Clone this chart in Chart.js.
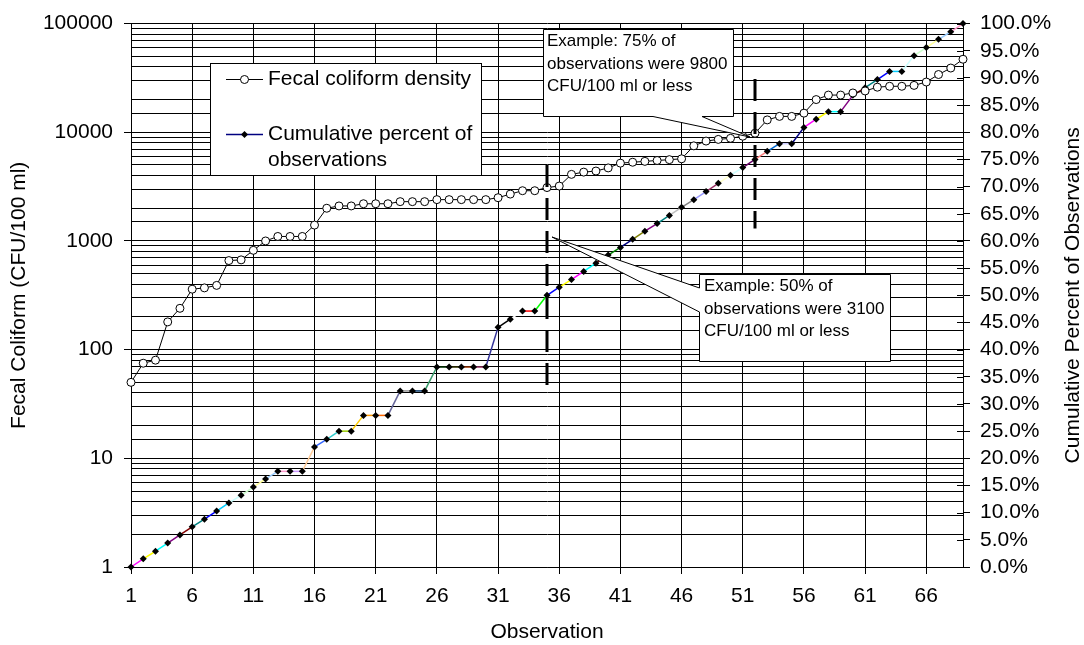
<!DOCTYPE html>
<html>
<head>
<meta charset="utf-8">
<script src="https://cdn.jsdelivr.net/npm/chart.js@4.4.0/dist/chart.umd.min.js"></script>
<style>
  body { margin: 0; background: #fff; }
  canvas { display: block; }
</style>
</head>
<body>
<canvas id="grafica" width="1084" height="645"></canvas>
<script>
const observaciones = [
  1, 2, 3, 4, 5, 6, 7, 8, 9, 10, 11, 12, 13, 14, 15, 16, 17, 18, 19, 20, 21, 22, 23,
  24, 25, 26, 27, 28, 29, 30, 31, 32, 33, 34, 35, 36, 37, 38, 39, 40, 41, 42, 43, 44, 45, 46,
  47, 48, 49, 50, 51, 52, 53, 54, 55, 56, 57, 58, 59, 60, 61, 62, 63, 64, 65, 66, 67, 68, 69
];
// Densidad de coliformes fecales (CFU/100 ml), ordenada
const coliformes = [
  50, 75, 80, 180, 240, 360, 370, 390, 660, 670, 820, 1000, 1100, 1100, 1100, 1400, 2000, 2100,
  2100, 2200, 2200, 2200, 2300, 2300, 2300, 2400, 2400, 2400, 2400, 2400, 2500, 2700, 2900, 2900,
  3100, 3200, 4100, 4300, 4400, 4700, 5200, 5300, 5400, 5500, 5600, 5700, 7500, 8300, 8600, 8800,
  9200, 9800, 13000, 14000, 14000, 15000, 20000, 22000, 22000, 23000, 24000, 26000, 26500, 26500,
  27000, 29000, 34000, 39000, 47000
];
// Porcentaje acumulado de observaciones
const porcentajeAcumulado = [
  0.0, 1.5, 2.9, 4.4, 5.9, 7.4, 8.8, 10.3, 11.8, 13.2, 14.7, 16.2, 17.6, 17.6, 17.6, 22.1, 23.5,
  25.0, 25.0, 27.9, 27.9, 27.9, 32.4, 32.4, 32.4, 36.8, 36.8, 36.8, 36.8, 36.8, 44.1, 45.6, 47.1,
  47.1, 50.0, 51.5, 52.9, 54.4, 55.9, 57.4, 58.8, 60.3, 61.8, 63.2, 64.7, 66.2, 67.6, 69.1, 70.6,
  72.1, 73.5, 75.0, 76.5, 77.9, 77.9, 80.9, 82.4, 83.8, 83.8, 86.8, 88.2, 89.7, 91.2, 91.2, 94.1,
  95.6, 97.1, 98.5, 100.0
];
const ticksObservacion = [1, 6, 11, 16, 21, 26, 31, 36, 41, 46, 51, 56, 61, 66];
const ticksLog = [1, 10, 100, 1000, 10000, 100000];

// Colores por punto (paleta de Excel, "variar colores por punto")
const coloresSegmento = [
  '#000080', '#FF00FF', '#FFFF00', '#00FFFF', '#800080', '#800000', '#008080', '#0000FF',
  '#00CCFF', '#CCFFFF', '#CCFFCC', '#FFFF99', '#99CCFF', '#FF99CC', '#CC99FF', '#FFCC99',
  '#3366FF', '#33CCCC', '#99CC00', '#FFCC00', '#FF9900', '#FF6600', '#666699', '#969696',
  '#003366', '#339966', '#003300', '#333300', '#993300', '#993366', '#333399', '#000000',
  '#FFFFFF', '#FF0000', '#00FF00', '#0000FF', '#FFFF00', '#FF00FF', '#00FFFF', '#800000',
  '#008000', '#000080', '#808000', '#800080', '#008080', '#C0C0C0', '#808080', '#9999FF',
  '#993366', '#FFFFCC', '#CCFFFF', '#660066', '#FF8080', '#0066CC', '#CCCCFF', '#000080',
  '#FF00FF', '#FFFF00', '#00FFFF', '#800080', '#800000', '#008080', '#0000FF', '#00CCFF',
  '#CCFFFF', '#CCFFCC', '#FFFF99', '#99CCFF', '#FF99CC'
];

// Lineas punteadas de ejemplo: observacion y rango en el eje logaritmico
const marcasEjemplo = [
  { obs: 35, desde: 40, hasta: 5000 },
  { obs: 52, desde: 1300, hasta: 31000 }
];

const FUENTE = "'Liberation Sans', Arial, sans-serif";
Chart.defaults.font.family = FUENTE;
Chart.defaults.color = '#000';

const dibujarCallout = (ctx, puntos, lineas, tx, ty) => {
  ctx.beginPath();
  ctx.moveTo(puntos[0][0], puntos[0][1]);
  for (let i = 1; i < puntos.length; i++) ctx.lineTo(puntos[i][0], puntos[i][1]);
  ctx.closePath();
  ctx.fillStyle = '#fff';
  ctx.fill();
  ctx.strokeStyle = '#000';
  ctx.lineWidth = 1;
  ctx.stroke();
  ctx.fillStyle = '#000';
  ctx.font = `17px ${FUENTE}`;
  ctx.textAlign = 'left';
  ctx.textBaseline = 'middle';
  lineas.forEach((t, i) => ctx.fillText(t, tx, ty + i * 22.5));
};

const extras = {
  id: 'extras',
  afterDraw(chart) {
    const ctx = chart.ctx;
    const area = chart.chartArea;
    const sx = chart.scales.x;
    const sy = chart.scales.y;
    const sy2 = chart.scales.y2;

    // Marcas interiores del eje derecho (cruzan el eje)
    ctx.save();
    ctx.strokeStyle = '#000';
    ctx.lineWidth = 1;
    sy2.ticks.forEach(t => {
      const py = Math.round(sy2.getPixelForValue(t.value)) + 0.5;
      ctx.beginPath();
      ctx.moveTo(area.right - 6, py);
      ctx.lineTo(area.right, py);
      ctx.stroke();
    });
    ctx.restore();

    // Titulo del eje derecho (se lee de abajo hacia arriba)
    ctx.save();
    ctx.translate(1073, (area.top + area.bottom) / 2);
    ctx.rotate(-Math.PI / 2);
    ctx.font = `21px ${FUENTE}`;
    ctx.fillStyle = '#000';
    ctx.textAlign = 'center';
    ctx.textBaseline = 'middle';
    ctx.fillText('Cumulative Percent of Observations', 0, 0);
    ctx.restore();

    // Lineas punteadas
    ctx.save();
    ctx.strokeStyle = '#000';
    ctx.lineWidth = 3;
    ctx.setLineDash([22, 11]);
    marcasEjemplo.forEach(m => {
      const px = Math.round(sx.getPixelForValue(m.obs));
      ctx.beginPath();
      ctx.moveTo(px, sy.getPixelForValue(m.hasta));
      ctx.lineTo(px, sy.getPixelForValue(m.desde));
      ctx.stroke();
    });
    ctx.restore();

    // Leyenda
    ctx.save();
    ctx.fillStyle = '#fff';
    ctx.fillRect(210.5, 63.5, 271, 112);
    ctx.strokeStyle = '#000';
    ctx.lineWidth = 1;
    ctx.strokeRect(210.5, 63.5, 271, 112);
    ctx.beginPath();
    ctx.moveTo(226, 79.5);
    ctx.lineTo(263, 79.5);
    ctx.stroke();
    ctx.beginPath();
    ctx.arc(244.5, 79.5, 4, 0, Math.PI * 2);
    ctx.fillStyle = '#fff';
    ctx.fill();
    ctx.stroke();
    ctx.strokeStyle = coloresSegmento[0];
    ctx.lineWidth = 1.5;
    ctx.beginPath();
    ctx.moveTo(226, 134.5);
    ctx.lineTo(263, 134.5);
    ctx.stroke();
    ctx.fillStyle = '#000';
    ctx.beginPath();
    ctx.moveTo(244.5, 131);
    ctx.lineTo(248, 134.5);
    ctx.lineTo(244.5, 138);
    ctx.lineTo(241, 134.5);
    ctx.closePath();
    ctx.fill();
    ctx.font = `21px ${FUENTE}`;
    ctx.textAlign = 'left';
    ctx.textBaseline = 'middle';
    ctx.fillText('Fecal coliform density', 268, 79);
    ctx.fillText('Cumulative percent of', 268, 134);
    ctx.fillText('observations', 268, 160);

    // Llamadas de ejemplo
    dibujarCallout(ctx,
      [[543.5, 29.5], [733.5, 29.5], [733.5, 116.5], [702, 116.5], [750, 137], [653, 116.5], [543.5, 116.5]],
      ['Example: 75% of', 'observations were 9800', 'CFU/100 ml or less'], 547, 41.5);
    dibujarCallout(ctx,
      [[699.5, 274.5], [890.5, 274.5], [890.5, 361.5], [699.5, 361.5], [699.5, 312], [552, 237], [699.5, 288]],
      ['Example: 50% of', 'observations were 3100', 'CFU/100 ml or less'], 704, 286.5);
    ctx.restore();
  }
};

new Chart(document.getElementById('grafica'), {
  type: 'line',
  data: {
    datasets: [
      {
        label: 'Fecal coliform density',
        data: observaciones.map((o, i) => ({ x: o, y: coliformes[i] })),
        yAxisID: 'y',
        borderColor: '#000',
        borderWidth: 1,
        pointStyle: 'circle',
        pointRadius: 4,
        pointBackgroundColor: '#fff',
        pointBorderColor: '#000',
        pointBorderWidth: 1,
        clip: false
      },
      {
        label: 'Cumulative percent of observations',
        data: observaciones.map((o, i) => ({ x: o, y: porcentajeAcumulado[i] })),
        yAxisID: 'y2',
        borderColor: coloresSegmento[0],
        borderWidth: 1.5,
        segment: { borderColor: c => coloresSegmento[c.p1DataIndex] },
        pointStyle: 'rectRot',
        pointRadius: 3.5,
        pointBackgroundColor: '#000',
        pointBorderColor: '#000',
        pointBorderWidth: 0,
        clip: false
      }
    ]
  },
  options: {
    responsive: false,
    animation: false,
    layout: { padding: { top: 17, right: 0, bottom: 0, left: 0 } },
    plugins: { legend: { display: false }, tooltip: { enabled: false } },
    scales: {
      x: {
        type: 'linear',
        min: 1,
        max: 69,
        afterBuildTicks: s => { s.ticks = ticksObservacion.map(v => ({ value: v })); },
        afterFit: s => { s.height = 78; },
        grid: { color: '#000', lineWidth: 1, tickLength: 7, tickColor: '#000' },
        border: { color: '#000', width: 1 },
        ticks: { color: '#000', font: { size: 21 }, padding: 10, maxRotation: 0, autoSkip: false },
        title: { display: true, text: 'Observation', color: '#000', font: { size: 21 }, padding: 0 }
      },
      y: {
        type: 'logarithmic',
        position: 'left',
        min: 1,
        max: 100000,
        afterFit: s => { s.width = 131; },
        grid: {
          color: '#000',
          lineWidth: 1,
          tickLength: 7,
          tickColor: c => (c.tick && ticksLog.includes(c.tick.value)) ? '#000' : 'rgba(0,0,0,0)'
        },
        border: { color: '#000', width: 1 },
        ticks: {
          autoSkip: false,
          color: '#000',
          font: { size: 21 },
          padding: 11,
          callback: v => ticksLog.includes(v) ? String(v) : ''
        },
        title: {
          display: true,
          text: 'Fecal Coliform (CFU/100 ml)',
          color: '#000',
          font: { size: 21 },
          padding: { top: 7, bottom: 0 }
        }
      },
      y2: {
        type: 'linear',
        position: 'right',
        min: 0,
        max: 100,
        afterFit: s => { s.width = 121; },
        grid: { drawOnChartArea: false, tickLength: 7, tickColor: '#000' },
        border: { color: '#000', width: 1 },
        ticks: {
          stepSize: 5,
          autoSkip: false,
          color: '#000',
          font: { size: 21 },
          padding: 10,
          callback: v => v.toFixed(1) + '%'
        }
      }
    }
  },
  plugins: [extras]
});
</script>
</body>
</html>
